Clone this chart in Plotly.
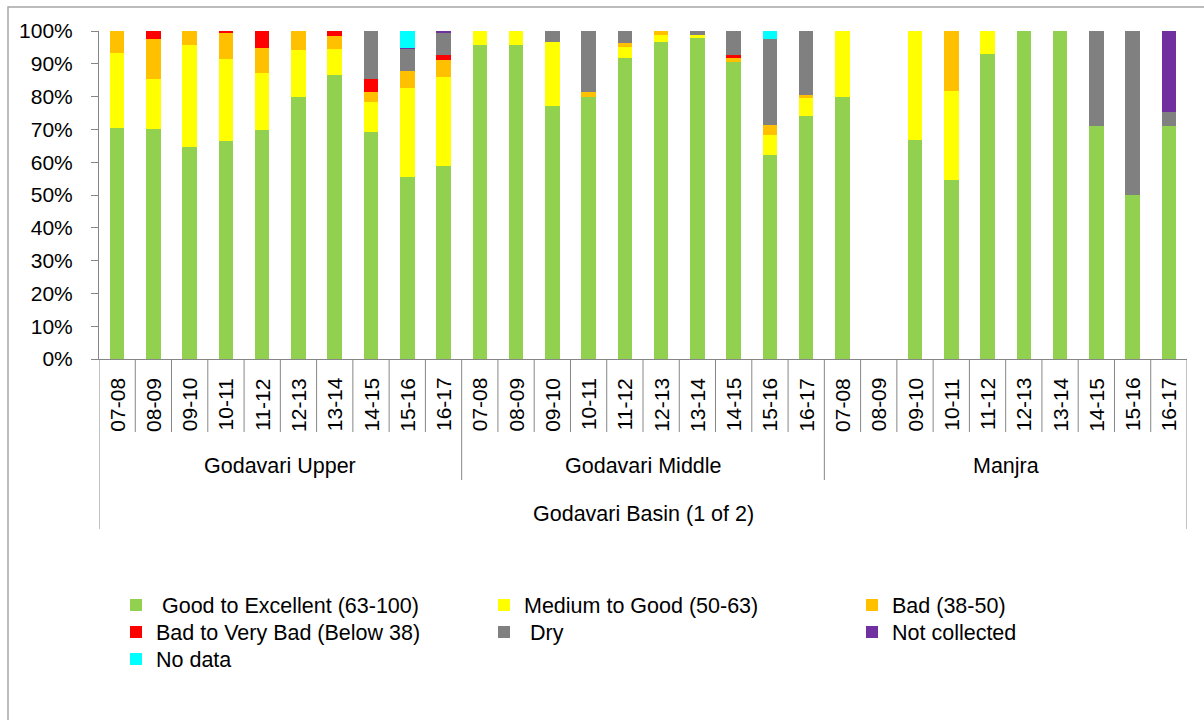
import plotly.graph_objects as go

# ---------------- data ----------------
years = ["07-08", "08-09", "09-10", "10-11", "11-12", "12-13", "13-14", "14-15", "15-16", "16-17"]
groups = ["Godavari Upper", "Godavari Middle", "Manjra"]
basin = "Godavari Basin (1 of 2)"

good = [70.5, 70.2, 64.7, 66.5, 69.7, 80.0, 86.6, 69.3, 55.6, 58.8,
        95.8, 95.8, 77.1, 80.0, 91.9, 96.7, 98.0, 90.7, 62.2, 74.2,
        80.0, 0, 66.7, 54.5, 92.9, 100, 100, 71.0, 50.0, 71.0]
medium = [22.9, 15.2, 31.0, 25.0, 17.4, 14.2, 7.8, 9.0, 27.1, 27.3,
          4.2, 4.2, 19.6, 0, 3.2, 2.1, 0.9, 0, 6.1, 5.4,
          20.0, 0, 33.3, 27.3, 7.1, 0, 0, 0, 0, 0]
bad = [6.6, 12.2, 4.3, 8.0, 7.7, 5.8, 4.2, 3.1, 5.0, 5.2,
       0, 0, 0, 1.4, 1.2, 1.2, 0, 1.0, 3.0, 0.8,
       0, 0, 0, 18.2, 0, 0, 0, 0, 0, 0]
very_bad = [0, 2.4, 0, 0.5, 5.2, 0, 1.4, 4.0, 0, 1.3,
            0, 0, 0, 0, 0, 0, 0, 1.1, 0, 0,
            0, 0, 0, 0, 0, 0, 0, 0, 0, 0]
dry = [0, 0, 0, 0, 0, 0, 0, 14.6, 6.9, 6.9,
       0, 0, 3.3, 18.6, 3.7, 0, 1.1, 7.2, 26.3, 19.6,
       0, 0, 0, 0, 0, 0, 0, 29.0, 50.0, 4.3]
not_collected = [0, 0, 0, 0, 0, 0, 0, 0, 0.3, 0.5,
                 0, 0, 0, 0, 0, 0, 0, 0, 0, 0,
                 0, 0, 0, 0, 0, 0, 0, 0, 0, 24.7]
no_data = [0, 0, 0, 0, 0, 0, 0, 0, 5.1, 0,
           0, 0, 0, 0, 0, 0, 0, 0, 2.4, 0,
           0, 0, 0, 0, 0, 0, 0, 0, 0, 0]

series_names = ["\u00a0Good to Excellent (63-100)", "Medium to Good (50-63)", "Bad (38-50)",
                "Bad to Very Bad (Below 38)", "\u00a0Dry", "Not collected", "No data"]
series_values = [good, medium, bad, very_bad, dry, not_collected, no_data]
series_colors = ["#92D050", "#FFFF00", "#FFC000", "#FF0000", "#808080", "#7030A0", "#00FFFF"]

# ---------------- geometry helpers ----------------
W, H = 1204, 720
ML, MR, MT, MB = 99, 17, 31, 361
PW, PH = W - ML - MR, H - MT - MB
n = len(years) * len(groups)
xs = list(range(n))


def py(px_y):
    """pixel y -> paper y"""
    return (H - MB - px_y) / PH


def px(px_x):
    return (px_x - ML) / PW


FONT = "Liberation Sans, Arial, sans-serif"
AX = "#868686"

fig = go.Figure()

legend_slots = [(116, 605), (484, 605), (852, 605),
                (116, 632), (484, 632), (852, 632),
                (116, 659)]

for i, (name, vals, col) in enumerate(zip(series_names, series_values, series_colors)):
    lg = "legend" if i == 0 else f"legend{i+1}"
    fig.add_trace(go.Bar(x=xs, y=vals, name=name, marker=dict(color=col, line=dict(width=0)),
                         width=0.4, legend=lg, showlegend=True))

fig.update_layout(barmode="stack", showlegend=True)

# legends, one per entry, laid out in 3 columns
lay = {}
for i, (lx, ly) in enumerate(legend_slots):
    key = "legend" if i == 0 else f"legend{i+1}"
    lay[key] = dict(x=px(lx), y=py(ly), xanchor="left", yanchor="middle",
                    font=dict(family=FONT, size=21.5, color="#000000"),
                    bgcolor="rgba(0,0,0,0)", borderwidth=0, visible=True)
fig.update_layout(**lay)

shapes = []
# category dividers
for k in range(n + 1):
    xk = k - 0.5
    if k == 0 or k == n:
        y1 = py(529)
    elif k % len(years) == 0:
        y1 = py(480)
    else:
        y1 = py(432)
    shapes.append(dict(type="line", xref="x", yref="paper", x0=xk, x1=xk, y0=0, y1=y1,
                       line=dict(color=AX, width=1)))
# outer frame
shapes.append(dict(type="rect", xref="paper", yref="paper", x0=px(8), x1=px(1215),
                   y0=py(7), y1=py(735), line=dict(color="#A6A6A6", width=1.5),
                   fillcolor="rgba(0,0,0,0)", layer="below"))

annotations = []
for gi, g in enumerate(groups):
    for yi, yr in enumerate(years):
        annotations.append(dict(x=gi * len(years) + yi, y=py(404.5), xref="x", yref="paper",
                                text=yr, textangle=-90, showarrow=False,
                                xanchor="center", yanchor="middle",
                                font=dict(family=FONT, size=21, color="#000000")))
    annotations.append(dict(x=gi * len(years) + (len(years) - 1) / 2, y=py(466), xref="x",
                            yref="paper", text=g, showarrow=False, xanchor="center",
                            yanchor="middle", font=dict(family=FONT, size=21.5, color="#000000")))
annotations.append(dict(x=(n - 1) / 2, y=py(514), xref="x", yref="paper", text=basin,
                        showarrow=False, xanchor="center", yanchor="middle",
                        font=dict(family=FONT, size=21.5, color="#000000")))

fig.update_layout(
    width=W, height=H,
    margin=dict(l=ML, r=MR, t=MT, b=MB, autoexpand=False),
    paper_bgcolor="white", plot_bgcolor="white",
    shapes=shapes, annotations=annotations,
    bargap=0.6,
    xaxis=dict(range=[-0.5, n - 0.5], showticklabels=False, showgrid=False, zeroline=False,
               showline=True, linecolor=AX, linewidth=1, ticks=""),
    yaxis=dict(range=[0, 100], dtick=10, ticksuffix="%", showgrid=False, zeroline=False,
               showline=True, linecolor=AX, linewidth=1, ticks="outside", ticklen=7,
               tickcolor=AX, tickwidth=1, ticklabelstandoff=14,
               tickfont=dict(family=FONT, size=21, color="#000000")),
    font=dict(family=FONT, color="#000000"),
)

fig.write_html("out.html", config={"displayModeBar": False},
               post_script="document.body.style.margin='0';")
